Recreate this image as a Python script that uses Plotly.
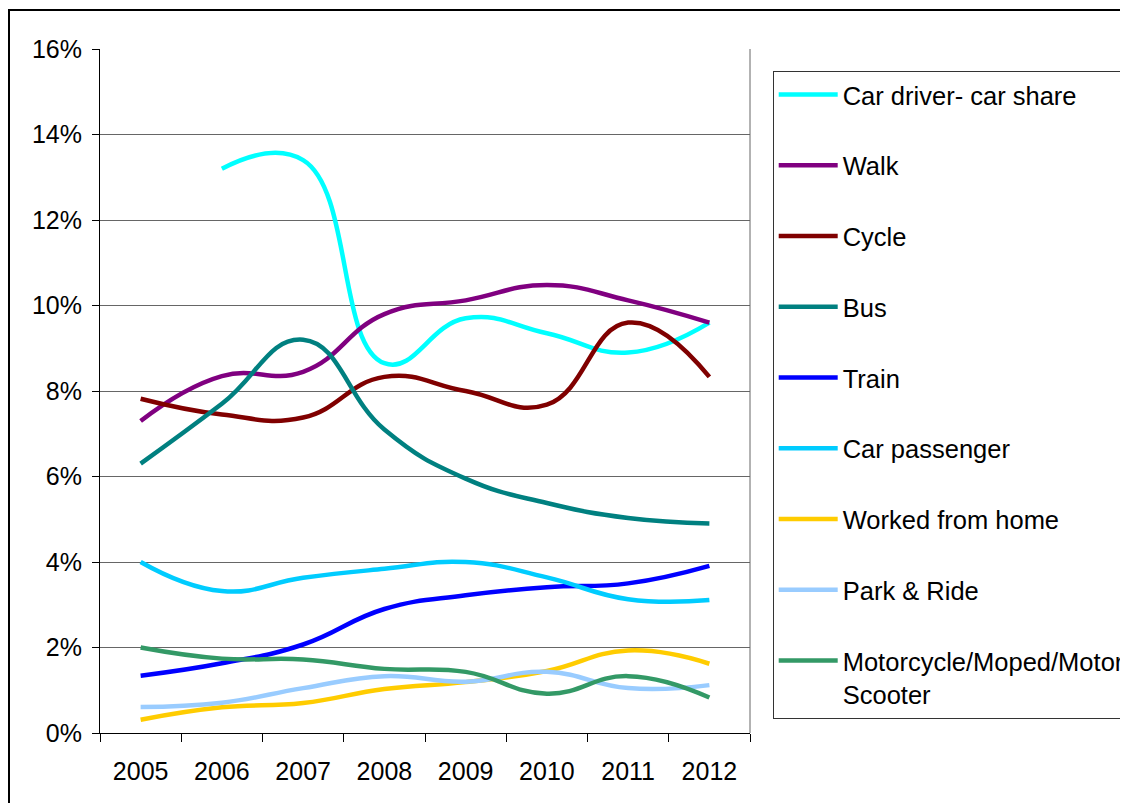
import plotly.graph_objects as go

years = ["2005", "2006", "2007", "2008", "2009", "2010", "2011", "2012"]

car_driver = [None, 13.2, 13.4, 8.65, 9.7, 9.35, 8.9, 9.6]
walk = [7.3, 8.35, 8.45, 9.8, 10.12, 10.48, 10.12, 9.6]
cycle = [7.82, 7.45, 7.38, 8.33, 8.0, 7.68, 9.6, 8.33]
bus = [6.3, 7.7, 9.2, 7.1, 5.95, 5.38, 5.03, 4.9]
train = [1.34, 1.63, 2.07, 2.9, 3.22, 3.41, 3.5, 3.91]
car_passenger = [4.0, 3.32, 3.63, 3.84, 4.0, 3.64, 3.13, 3.11]
worked_from_home = [0.31, 0.6, 0.7, 1.03, 1.19, 1.45, 1.93, 1.62]
park_and_ride = [0.61, 0.71, 1.05, 1.33, 1.2, 1.43, 1.05, 1.12]
motorcycle = [2.0, 1.74, 1.72, 1.5, 1.43, 0.92, 1.33, 0.83]

series_names = [
    "Car driver- car share", "Walk", "Cycle", "Bus", "Train",
    "Car passenger", "Worked from home", "Park & Ride",
    "Motorcycle/Moped/Motor<br>Scooter",
]
series_values = [car_driver, walk, cycle, bus, train, car_passenger,
                 worked_from_home, park_and_ride, motorcycle]
series_colors = ["#00FFFF", "#800080", "#800000", "#008080", "#0000FF",
                 "#00CCFF", "#FFCC00", "#99CCFF", "#339966"]

y_ticks = [0, 2, 4, 6, 8, 10, 12, 14, 16]

FONT = "Liberation Sans, Arial, sans-serif"

fig = go.Figure()
for i, (name, vals, col) in enumerate(zip(series_names, series_values, series_colors)):
    fig.add_trace(go.Scatter(
        x=years, y=vals, name=name, mode="lines",
        line=dict(color=col, width=4.5, shape="spline", smoothing=1.3),
        legendgroup="g%d" % i,
    ))

# page body has an 8px margin, so figure coords = screen coords - 8
W, H = 1120, 795
L, R, T, B = 92, 742, 41, 725

fig.update_layout(
    width=W, height=H, autosize=False,
    margin=dict(l=L, r=W - R, t=T, b=H - B, pad=0, autoexpand=False),
    paper_bgcolor="white", plot_bgcolor="white",
    font=dict(family=FONT, size=25, color="black"),
    showlegend=True,
    legend=dict(
        x=(764.7 - L) / (R - L), xanchor="left",
        y=(B - 62.5) / (B - T), yanchor="top",
        bordercolor="#333333", borderwidth=1, bgcolor="white",
        font=dict(family=FONT, size=25.5, color="black"),
        tracegroupgap=34.6, itemwidth=59, valign="top",
        traceorder="grouped",
    ),
    xaxis=dict(
        type="category", range=[-0.5, 7.5], tickson="boundaries",
        ticks="outside", ticklen=8, ticklabelstandoff=16,
        tickcolor="black", showline=True, linecolor="black", linewidth=1,
        showgrid=False, tickfont=dict(family=FONT, size=25, color="black"),
        fixedrange=True, automargin=False,
    ),
    yaxis=dict(
        range=[0, 16], tickvals=y_ticks, ticktext=["%d%%" % v for v in y_ticks],
        ticks="outside", ticklen=7, tickcolor="black", ticklabelstandoff=5,
        showline=True, linecolor="black", linewidth=1,
        showgrid=True, gridcolor="#666666", gridwidth=1, zeroline=False,
        tickfont=dict(family=FONT, size=25, color="black"),
        fixedrange=True, automargin=False,
    ),
    shapes=[
        dict(type="line", xref="x domain", yref="y domain", x0=1, x1=1, y0=0, y1=1,
             line=dict(color="#666666", width=1), layer="below"),
        dict(type="rect", xref="paper", yref="paper",
             x0=(1 - L) / (R - L), x1=(W + 20 - L) / (R - L),
             y0=(B - (H + 20)) / (B - T), y1=(B - 2) / (B - T),
             line=dict(color="black", width=2), layer="below"),
    ],
)

fig.write_html("out.html")
